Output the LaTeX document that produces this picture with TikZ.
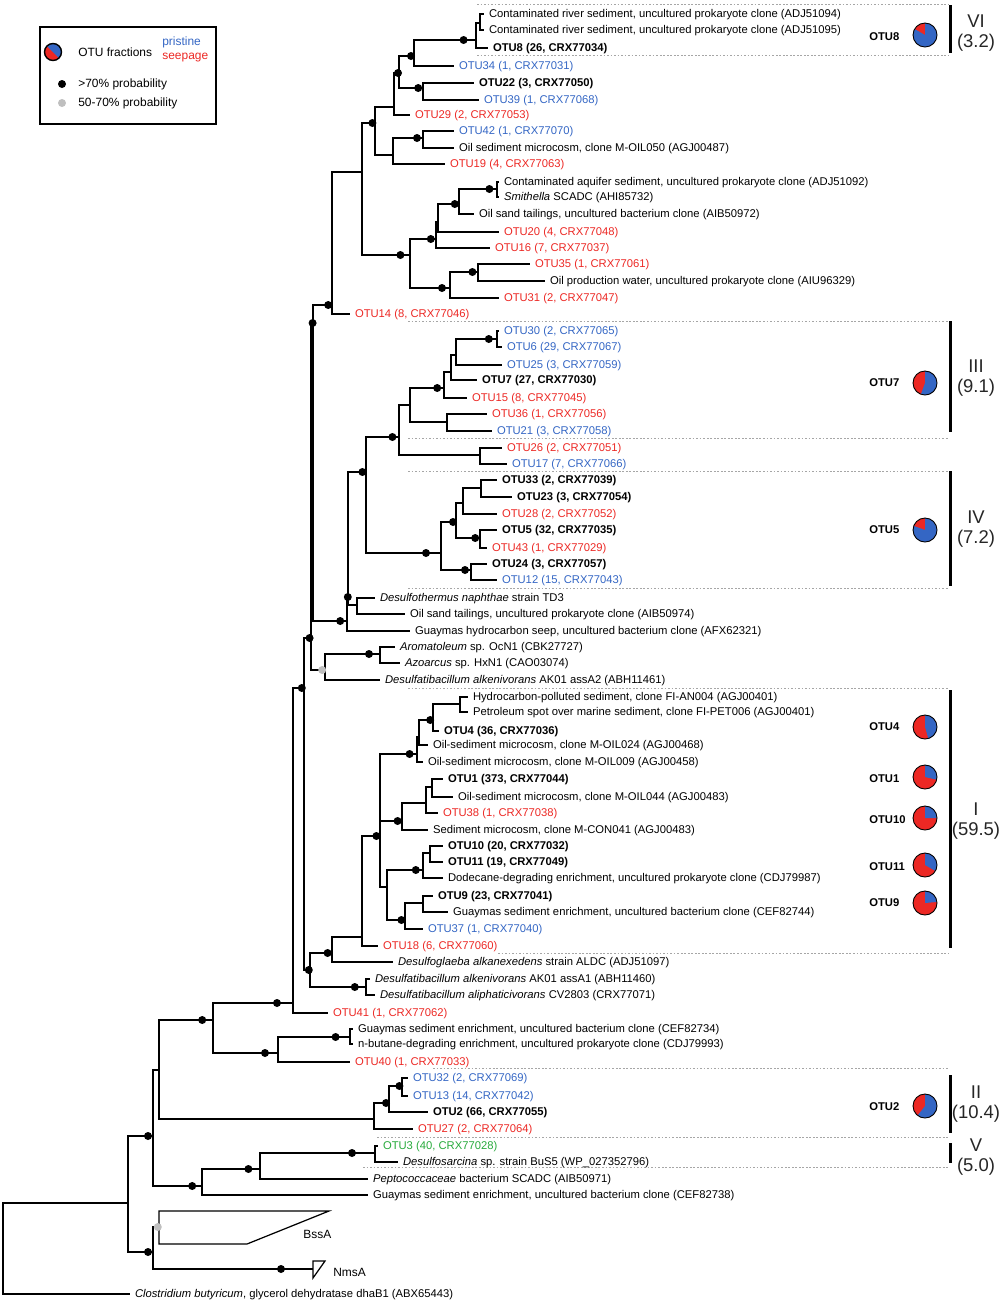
\documentclass[tikz,border=0pt]{standalone}
\usepackage{fontspec}
\setmainfont{Liberation Sans}
\usetikzlibrary{calc}
\definecolor{pristblue}{RGB}{52,102,196}
\definecolor{seepred}{RGB}{236,40,36}
\definecolor{bothgreen}{RGB}{40,170,60}
\newcommand{\lblfont}{\fontsize{6.4}{7.5}\selectfont}
\tikzset{
  branch/.style={line width=.7pt},
  refl/.style={anchor=west, inner sep=0pt, outer xsep=1mm, font=\lblfont, text height=4.6pt, text depth=.4pt},
  otul/.style={refl, font=\lblfont\bfseries},
  pristl/.style={refl, text=pristblue},
  seepl/.style={refl, text=seepred},
  bothl/.style={refl, text=bothgreen},
  hiprob/.style={circle, fill=black, inner sep=0pt, minimum size=1.6mm},
  loprob/.style={hiprob, fill=black!25},
  sepline/.style={black!35, line width=.5pt, dash pattern=on 1pt off 1pt},
  cladebar/.style={line width=1.7pt},
  cladelbl/.style={align=center, font=\fontsize{10.5}{11.5}\selectfont, text=black!85, inner sep=0pt},
  pielbl/.style={anchor=west, inner sep=0pt, font=\fontsize{6.4}{7.5}\selectfont\bfseries},
  legtxt/.style={anchor=west, inner sep=0pt, font=\fontsize{6.8}{8}\selectfont}
}
% branch to an inner node / to a tip, support dots
\newcommand{\brn}[2]{\draw[branch] (#1) |- (#2);}
\newcommand{\brl}[2]{\draw[branch] (#1) |- (#2.west);}
\newcommand{\hiprob}[2]{\path (#1 |- #2) -- (#2) node[pos=.8, hiprob] {};}
\newcommand{\loprob}[2]{\path (#1 |- #2) -- (#2) node[pos=.8, loprob] {};}
\newcommand{\otupie}[2]{%
  \fill[seepred] (#1) circle[radius=2.4mm];
  \fill[pristblue] (#1) -- ++(90:2.4mm) arc[start angle=90, delta angle=-#2, radius=2.4mm] -- cycle;
  \draw[line width=.5pt] (#1) circle[radius=2.4mm];}

\begin{document}
\begin{tikzpicture}[x=0.2mm, y=-0.2mm]
  \useasboundingbox (0,0) rectangle (1000,1303);

  % legend
  \draw[line width=1pt] (40,27) rectangle (216,124);
  \coordinate (legpie) at (53,52);
  \fill[seepred] (legpie) circle[radius=1.7mm];
  \fill[pristblue] (legpie) -- ++(135:1.7mm) arc[start angle=135, delta angle=-180, radius=1.7mm] -- cycle;
  \draw[line width=.8pt] (legpie) circle[radius=1.7mm];
  \node[legtxt] (legfrac) at (78,52) {OTU fractions};
  \node[legtxt, text=pristblue] (legprist) at (162,42) {pristine};
  \node[legtxt, text=seepred] (legseep) at (162,58) {seepage};
  \node[hiprob] (leghi) at (62,84) {};
  \node[legtxt] (leghitxt) at (78,84) {>70\% probability};
  \node[loprob] (leglo) at (62,103) {};
  \node[legtxt] (leglotxt) at (78,103) {50-70\% probability};

  % clade separators and bars
  \foreach \y/\x in {4/477, 55/477, 321/408, 438/408, 471/408, 588/408, 688/408, 953/498, 1068/433, 1137/377, 1167/363}
    \draw[sepline] (\x,\y) -- (948,\y);
  \foreach \a/\b in {5/53, 321/432, 471/586, 690/948, 1075/1133, 1143/1163}
    \draw[cladebar] (950,\a) -- (950,\b);
  \node[cladelbl] (cl6) at (976,33) {VI\\(3.2)};
  \node[cladelbl] (cl3) at (976,378) {III\\(9.1)};
  \node[cladelbl] (cl4) at (976,529) {IV\\(7.2)};
  \node[cladelbl] (cl1) at (976,821) {I\\(59.5)};
  \node[cladelbl] (cl2) at (976,1104) {II\\(10.4)};
  \node[cladelbl] (cl5) at (976,1157) {V\\(5.0)};

  % OTU fraction pies
  \node[pielbl] (lab8) at (869,37) {OTU8};
  \node[pielbl] (lab7) at (869,383) {OTU7};
  \node[pielbl] (lab5) at (869,530) {OTU5};
  \node[pielbl] (lab4) at (869,727) {OTU4};
  \node[pielbl] (lab1) at (869,779) {OTU1};
  \node[pielbl] (lab10) at (869,820) {OTU10};
  \node[pielbl] (lab11) at (869,867) {OTU11};
  \node[pielbl] (lab9) at (869,903) {OTU9};
  \node[pielbl] (lab2) at (869,1107) {OTU2};
  \foreach \n/\y/\b in {8/35/300, 7/383/200, 5/530/290, 4/727/164, 1/777/103, 10/818/90, 11/865/120, 9/903/85, 2/1106/218} {
    \coordinate (pie\n) at (925,\y);
    \otupie{pie\n}{\b}
  }

  % tips
  \node[refl] (adj94) at (484,14) {Contaminated river sediment, uncultured prokaryote clone (ADJ51094)};
  \node[refl] (adj95) at (484,30) {Contaminated river sediment, uncultured prokaryote clone (ADJ51095)};
  \node[otul] (otu8) at (488,48) {OTU8 (26, CRX77034)};
  \node[pristl] (otu34) at (454,66) {OTU34 (1, CRX77031)};
  \node[otul] (otu22) at (474,83) {OTU22 (3, CRX77050)};
  \node[pristl] (otu39) at (479,100) {OTU39 (1, CRX77068)};
  \node[seepl] (otu29) at (410,115) {OTU29 (2, CRX77053)};
  \node[pristl] (otu42) at (454,131) {OTU42 (1, CRX77070)};
  \node[refl] (agj487) at (454,148) {Oil sediment microcosm, clone M-OIL050 (AGJ00487)};
  \node[seepl] (otu19) at (445,164) {OTU19 (4, CRX77063)};
  \node[refl] (adj92) at (499,182) {Contaminated aquifer sediment, uncultured prokaryote clone (ADJ51092)};
  \node[refl] (ahi) at (499,197) {\textit{Smithella} SCADC (AHI85732)};
  \node[refl] (aib72) at (474,214) {Oil sand tailings, uncultured bacterium clone (AIB50972)};
  \node[seepl] (otu20) at (499,232) {OTU20 (4, CRX77048)};
  \node[seepl] (otu16) at (490,248) {OTU16 (7, CRX77037)};
  \node[seepl] (otu35) at (530,264) {OTU35 (1, CRX77061)};
  \node[refl] (aiu) at (545,281) {Oil production water, uncultured prokaryote clone (AIU96329)};
  \node[seepl] (otu31) at (499,298) {OTU31 (2, CRX77047)};
  \node[seepl] (otu14) at (350,314) {OTU14 (8, CRX77046)};
  \node[pristl] (otu30) at (499,331) {OTU30 (2, CRX77065)};
  \node[pristl] (otu6) at (502,347) {OTU6 (29, CRX77067)};
  \node[pristl] (otu25) at (502,365) {OTU25 (3, CRX77059)};
  \node[otul] (otu7) at (477,380) {OTU7 (27, CRX77030)};
  \node[seepl] (otu15) at (467,398) {OTU15 (8, CRX77045)};
  \node[seepl] (otu36) at (487,414) {OTU36 (1, CRX77056)};
  \node[pristl] (otu21) at (492,431) {OTU21 (3, CRX77058)};
  \node[seepl] (otu26) at (502,448) {OTU26 (2, CRX77051)};
  \node[pristl] (otu17) at (507,464) {OTU17 (7, CRX77066)};
  \node[otul] (otu33) at (497,480) {OTU33 (2, CRX77039)};
  \node[otul] (otu23) at (512,497) {OTU23 (3, CRX77054)};
  \node[seepl] (otu28) at (497,514) {OTU28 (2, CRX77052)};
  \node[otul] (otu5) at (497,530) {OTU5 (32, CRX77035)};
  \node[seepl] (otu43) at (487,548) {OTU43 (1, CRX77029)};
  \node[otul] (otu24) at (487,564) {OTU24 (3, CRX77057)};
  \node[pristl] (otu12) at (497,580) {OTU12 (15, CRX77043)};
  \node[refl] (td3) at (375,598) {\textit{Desulfothermus naphthae} strain TD3};
  \node[refl] (aib74) at (405,614) {Oil sand tailings, uncultured prokaryote clone (AIB50974)};
  \node[refl] (afx) at (410,631) {Guaymas hydrocarbon seep, uncultured bacterium clone (AFX62321)};
  \node[refl] (cbk) at (395,647) {\textit{Aromatoleum} sp. OcN1 (CBK27727)};
  \node[refl] (cao) at (400,663) {\textit{Azoarcus} sp. HxN1 (CAO03074)};
  \node[refl] (abh61) at (380,680) {\textit{Desulfatibacillum alkenivorans} AK01 assA2 (ABH11461)};
  \node[refl] (agj401a) at (468,697) {Hydrocarbon-polluted sediment, clone FI-AN004 (AGJ00401)};
  \node[refl] (agj401b) at (468,712) {Petroleum spot over marine sediment, clone FI-PET006 (AGJ00401)};
  \node[otul] (otu4) at (439,731) {OTU4 (36, CRX77036)};
  \node[refl] (agj468) at (428,745) {Oil-sediment microcosm, clone M-OIL024 (AGJ00468)};
  \node[refl] (agj458) at (423,762) {Oil-sediment microcosm, clone M-OIL009 (AGJ00458)};
  \node[otul] (otu1) at (443,779) {OTU1 (373, CRX77044)};
  \node[refl] (agj483a) at (453,797) {Oil-sediment microcosm, clone M-OIL044 (AGJ00483)};
  \node[seepl] (otu38) at (438,813) {OTU38 (1, CRX77038)};
  \node[refl] (agj483b) at (428,830) {Sediment microcosm, clone M-CON041 (AGJ00483)};
  \node[otul] (otu10) at (443,846) {OTU10 (20, CRX77032)};
  \node[otul] (otu11) at (443,862) {OTU11 (19, CRX77049)};
  \node[refl] (cdj87) at (443,878) {Dodecane-degrading enrichment, uncultured prokaryote clone (CDJ79987)};
  \node[otul] (otu9) at (433,896) {OTU9 (23, CRX77041)};
  \node[refl] (cef44) at (448,912) {Guaymas sediment enrichment, uncultured bacterium clone (CEF82744)};
  \node[pristl] (otu37) at (423,929) {OTU37 (1, CRX77040)};
  \node[seepl] (otu18) at (378,946) {OTU18 (6, CRX77060)};
  \node[refl] (adj97) at (393,962) {\textit{Desulfoglaeba alkanexedens} strain ALDC (ADJ51097)};
  \node[refl] (abh60) at (370,979) {\textit{Desulfatibacillum alkenivorans} AK01 assA1 (ABH11460)};
  \node[refl] (crx71) at (375,995) {\textit{Desulfatibacillum aliphaticivorans} CV2803 (CRX77071)};
  \node[seepl] (otu41) at (328,1013) {OTU41 (1, CRX77062)};
  \node[refl] (cef34) at (353,1029) {Guaymas sediment enrichment, uncultured bacterium clone (CEF82734)};
  \node[refl] (cdj93) at (353,1044) {n-butane-degrading enrichment, uncultured prokaryote clone (CDJ79993)};
  \node[seepl] (otu40) at (350,1062) {OTU40 (1, CRX77033)};
  \node[pristl] (otu32) at (408,1078) {OTU32 (2, CRX77069)};
  \node[pristl] (otu13) at (408,1096) {OTU13 (14, CRX77042)};
  \node[otul] (otu2) at (428,1112) {OTU2 (66, CRX77055)};
  \node[seepl] (otu27) at (413,1129) {OTU27 (2, CRX77064)};
  \node[bothl] (otu3) at (378,1146) {OTU3 (40, CRX77028)};
  \node[refl] (wp) at (398,1162) {\textit{Desulfosarcina} sp. strain BuS5 (WP\_027352796)};
  \node[refl] (aib71) at (368,1179) {\textit{Peptococcaceae} bacterium SCADC (AIB50971)};
  \node[refl] (cef38) at (368,1195) {Guaymas sediment enrichment, uncultured bacterium clone (CEF82738)};
  \node[refl] (abx) at (130,1294) {\textit{Clostridium butyricum}, glycerol dehydratase dhaB1 (ABX65443)};

  % inner nodes
  \coordinate (riv) at (480,23);
  \coordinate (c8) at (476,40);
  \coordinate (c834) at (414,56);
  \coordinate (c2239) at (423,88);
  \coordinate (c8to39) at (399,73);
  \coordinate (c8to29) at (394,107);
  \coordinate (c4287) at (423,138);
  \coordinate (c42to19) at (393,155);
  \coordinate (ctopA) at (375,123);
  \coordinate (caq) at (497,189);
  \coordinate (caq72) at (459,204);
  \coordinate (caq20) at (438,222);
  \coordinate (caq16) at (436,239);
  \coordinate (c35) at (478,272);
  \coordinate (c31) at (450,288);
  \coordinate (ctopB) at (410,255);
  \coordinate (ctop) at (362,172);
  \coordinate (ctop14) at (332,305);
  \coordinate (cD) at (313,323);
  \coordinate (cC) at (311,638);
  \coordinate (cW) at (304,688);
  \coordinate (cXX) at (293,1003);
  \coordinate (cE) at (347,621);
  \coordinate (cE1) at (348,597);
  \coordinate (cF) at (357,605);
  \coordinate (cG) at (366,472);
  \coordinate (cH) at (399,437);
  \coordinate (cL) at (410,405);
  \coordinate (cK) at (444,388);
  \coordinate (cJ) at (451,372);
  \coordinate (cI) at (456,355);
  \coordinate (c306) at (497,339);
  \coordinate (cM) at (447,422);
  \coordinate (cN) at (480,455);
  \coordinate (cT) at (441,553);
  \coordinate (cQ) at (456,522);
  \coordinate (cP) at (463,503);
  \coordinate (cO) at (481,488);
  \coordinate (cR) at (480,538);
  \coordinate (cS) at (471,570);
  \coordinate (cU) at (325,670);
  \coordinate (cV) at (380,654);
  \coordinate (cX1) at (310,970);
  \coordinate (cY) at (332,953);
  \coordinate (cZ) at (366,987);
  \coordinate (cAA) at (362,937);
  \coordinate (cBB) at (380,836);
  \coordinate (cCC) at (417,754);
  \coordinate (cHH) at (419,737);
  \coordinate (cGG) at (433,720);
  \coordinate (cFF) at (460,704);
  \coordinate (cII) at (402,821);
  \coordinate (cJJ) at (426,803);
  \coordinate (cKK) at (432,787);
  \coordinate (cDD) at (387,887);
  \coordinate (cLL) at (423,870);
  \coordinate (cNN) at (430,853);
  \coordinate (cMM) at (405,920);
  \coordinate (cOO) at (423,903);
  \coordinate (rt) at (3,1250);
  \coordinate (cR1) at (128,1203);
  \coordinate (cR2) at (153,1136);
  \coordinate (cR3) at (159,1070);
  \coordinate (cR4) at (213,1020);
  \coordinate (cR6) at (278,1053);
  \coordinate (cR7) at (350,1037);
  \coordinate (cR5) at (374,1119);
  \coordinate (cR8) at (389,1103);
  \coordinate (cR9) at (402,1086);
  \coordinate (cR10) at (202,1186);
  \coordinate (cR11) at (260,1169);
  \coordinate (cR12) at (375,1153);
  \coordinate (cR13) at (153,1252);
  \coordinate (bss) at (159,1227);
  \coordinate (nms) at (313,1269);

  % upper clades
  \brl{riv}{adj94} \brl{riv}{adj95}
  \brn{c8}{riv} \brl{c8}{otu8}
  \brn{c834}{c8} \brl{c834}{otu34}
  \brl{c2239}{otu22} \brl{c2239}{otu39}
  \brn{c8to39}{c834} \brn{c8to39}{c2239}
  \brn{c8to29}{c8to39} \brl{c8to29}{otu29}
  \brl{c4287}{otu42} \brl{c4287}{agj487}
  \brn{c42to19}{c4287} \brl{c42to19}{otu19}
  \brn{ctopA}{c8to29} \brn{ctopA}{c42to19}
  \brl{caq}{adj92} \brl{caq}{ahi}
  \brn{caq72}{caq} \brl{caq72}{aib72}
  \brn{caq20}{caq72} \brl{caq20}{otu20}
  \brn{caq16}{caq20} \brl{caq16}{otu16}
  \brl{c35}{otu35} \brl{c35}{aiu}
  \brn{c31}{c35} \brl{c31}{otu31}
  \brn{ctopB}{caq16} \brn{ctopB}{c31}
  \brn{ctop}{ctopA} \brn{ctop}{ctopB}
  \brn{ctop14}{ctop} \brl{ctop14}{otu14}
  % clades III and IV
  \brl{c306}{otu30} \brl{c306}{otu6}
  \brn{cI}{c306} \brl{cI}{otu25}
  \brn{cJ}{cI} \brl{cJ}{otu7}
  \brn{cK}{cJ} \brl{cK}{otu15}
  \brl{cM}{otu36} \brl{cM}{otu21}
  \brn{cL}{cK} \brn{cL}{cM}
  \brl{cN}{otu26} \brl{cN}{otu17}
  \brn{cH}{cL} \brn{cH}{cN}
  \brl{cO}{otu33} \brl{cO}{otu23}
  \brn{cP}{cO} \brl{cP}{otu28}
  \brl{cR}{otu5} \brl{cR}{otu43}
  \brn{cQ}{cP} \brn{cQ}{cR}
  \brl{cS}{otu24} \brl{cS}{otu12}
  \brn{cT}{cQ} \brn{cT}{cS}
  \brn{cG}{cH} \brn{cG}{cT}
  \brl{cF}{td3} \brl{cF}{aib74}
  \brn{cE1}{cG} \brn{cE1}{cF}
  \brn{cE}{cE1} \brl{cE}{afx}
  \brn{cD}{ctop14} \brn{cD}{cE}
  \brl{cV}{cbk} \brl{cV}{cao}
  \brn{cU}{cV} \brl{cU}{abh61}
  \brn{cC}{cD} \brn{cC}{cU}
  % clade I
  \brl{cFF}{agj401a} \brl{cFF}{agj401b}
  \brn{cGG}{cFF} \brl{cGG}{otu4}
  \brn{cHH}{cGG} \brl{cHH}{agj468}
  \brn{cCC}{cHH} \brl{cCC}{agj458}
  \brl{cKK}{otu1} \brl{cKK}{agj483a}
  \brn{cJJ}{cKK} \brl{cJJ}{otu38}
  \brn{cII}{cJJ} \brl{cII}{agj483b}
  \brl{cNN}{otu10} \brl{cNN}{otu11}
  \brn{cLL}{cNN} \brl{cLL}{cdj87}
  \brl{cOO}{otu9} \brl{cOO}{cef44}
  \brn{cMM}{cOO} \brl{cMM}{otu37}
  \brn{cDD}{cLL} \brn{cDD}{cMM}
  \brn{cBB}{cCC} \brn{cBB}{cII} \brn{cBB}{cDD}
  \brn{cAA}{cBB} \brl{cAA}{otu18}
  \brn{cY}{cAA} \brl{cY}{adj97}
  \brl{cZ}{abh60} \brl{cZ}{crx71}
  \brn{cX1}{cY} \brn{cX1}{cZ}
  \brn{cW}{cC} \brn{cW}{cX1}
  \brn{cXX}{cW} \brl{cXX}{otu41}
  % lower clades and root
  \brl{cR7}{cef34} \brl{cR7}{cdj93}
  \brn{cR6}{cR7} \brl{cR6}{otu40}
  \brn{cR4}{cXX} \brn{cR4}{cR6}
  \brl{cR9}{otu32} \brl{cR9}{otu13}
  \brn{cR8}{cR9} \brl{cR8}{otu2}
  \brn{cR5}{cR8} \brl{cR5}{otu27}
  \brn{cR3}{cR4} \brn{cR3}{cR5}
  \brl{cR12}{otu3} \brl{cR12}{wp}
  \brn{cR11}{cR12} \brl{cR11}{aib71}
  \brn{cR10}{cR11} \brl{cR10}{cef38}
  \brn{cR2}{cR3} \brn{cR2}{cR10}
  \brn{cR13}{bss} \brn{cR13}{nms}
  \brn{cR1}{cR2} \brn{cR1}{cR13}
  \brn{rt}{cR1} \brl{rt}{abx}
  % collapsed groups
  \draw[branch] (bss) -- (159,1211) -- (329,1211) -- (247,1244) -- (159,1244) -- cycle;
  \node[legtxt] (bsslbl) at (303,1234) {BssA};
  \draw[branch] (nms) -- (313,1261) -- (325,1261) -- (313,1278) -- cycle;
  \node[legtxt] (nmslbl) at (333,1272) {NmsA};

  % support
  \hiprob{c834}{c8} \hiprob{c8to39}{c834} \hiprob{c8to29}{c8to39} \hiprob{c8to39}{c2239}
  \hiprob{ctop}{ctopA} \hiprob{c42to19}{c4287}
  \hiprob{caq72}{caq} \hiprob{caq20}{caq72} \hiprob{ctopB}{caq16} \hiprob{ctop}{ctopB}
  \hiprob{ctopB}{c31} \hiprob{c31}{c35}
  \hiprob{cD}{ctop14} \hiprob{cC}{cD}
  \hiprob{cI}{c306} \hiprob{cL}{cK} \hiprob{cG}{cH} \hiprob{cE1}{cG}
  \hiprob{cG}{cT} \hiprob{cT}{cQ} \hiprob{cQ}{cR} \hiprob{cT}{cS}
  \hiprob{cE}{cE1} \hiprob{cD}{cE}
  \hiprob{cU}{cV} \loprob{cC}{cU}
  \hiprob{cW}{cC} \hiprob{cXX}{cW}
  \hiprob{cW}{cX1} \hiprob{cX1}{cY} \hiprob{cX1}{cZ}
  \hiprob{cAA}{cBB} \hiprob{cBB}{cCC} \hiprob{cHH}{cGG} \hiprob{cBB}{cII}
  \hiprob{cDD}{cLL} \hiprob{cDD}{cMM}
  \hiprob{cR4}{cXX} \hiprob{cR3}{cR4} \hiprob{cR4}{cR6} \hiprob{cR6}{cR7}
  \hiprob{cR5}{cR8} \hiprob{cR8}{cR9}
  \hiprob{cR2}{cR10} \hiprob{cR10}{cR11} \hiprob{cR11}{cR12}
  \hiprob{cR1}{cR2} \hiprob{cR1}{cR13}
  \loprob{cR13}{bss} \hiprob{cR13}{nms}
\end{tikzpicture}
\end{document}
